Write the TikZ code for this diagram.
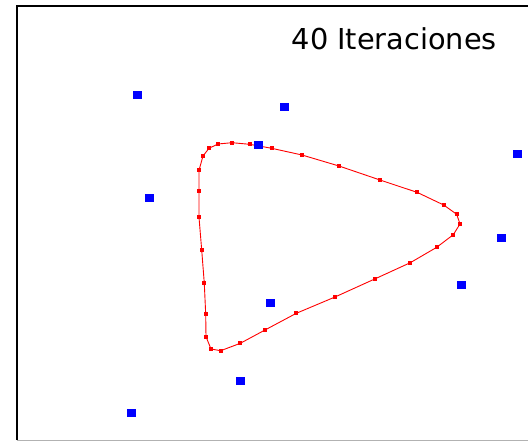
\documentclass[tikz,border=0pt]{standalone}
\usepackage{fontspec}
\newfontfamily\labelfont{DejaVu Sans}

\begin{document}
\begin{tikzpicture}[x=1pt, y=-1pt,
 ctrl/.style={fill=blue,inner sep=0pt,minimum width=9pt,minimum height=8pt},
 knot/.style={fill=red,inner sep=0pt,minimum size=4pt},
 curve/.style={red,line width=0.9pt},
 frame/.style={black,line width=1.5pt}]
\useasboundingbox (0,0) rectangle (528,441);
\fill[white] (0,0) rectangle (528,441);
\draw[frame] (17,440) -- (17,6) -- (528,6);
\draw[gray!60,line width=1pt] (17,440) -- (528,440);
% points of the closed curve
\foreach \x/\y [count=\i] in {218/144, 232/142.7, 249.7/144.3, 271.7/148.3, 302/155,
  339/166, 380/180, 417/192.3, 443.7/205, 456.7/214.3, 460/224, 453.3/234.7,
  436.7/247.3, 410.3/262.7, 374.7/279, 335/297, 296.3/313.3, 265/330, 240.3/343.3,
  220.7/350.7, 211/349, 206/336.7, 205.7/314.3, 204.3/283.3, 201.7/250, 199/217.3,
  199/191, 199/170.3, 203/156, 209/148.3}
  \coordinate (k\i) at (\x,\y);
\draw[curve] (k1) \foreach \i in {2,...,30} {-- (k\i)} -- cycle;
\foreach \i in {1,...,30}
  \node[knot] (d\i) at (k\i) {};
% control points
\node[ctrl] (c1) at (137,95) {};
\node[ctrl] (c2) at (284,107) {};
\node[ctrl] (c3) at (258,145) {};
\node[ctrl] (c4) at (517,154) {};
\node[ctrl] (c5) at (149,198) {};
\node[ctrl] (c6) at (501,238) {};
\node[ctrl] (c7) at (461.5,285) {};
\node[ctrl] (c8) at (270,302.5) {};
\node[ctrl] (c9) at (240,381) {};
\node[ctrl] (c10) at (131,412.5) {};
\node[font=\labelfont\fontsize{28.8}{32}\selectfont,anchor=base west,inner sep=0pt] (title) at (291.5,50) {40 Iteraciones};
\end{tikzpicture}
\end{document}
